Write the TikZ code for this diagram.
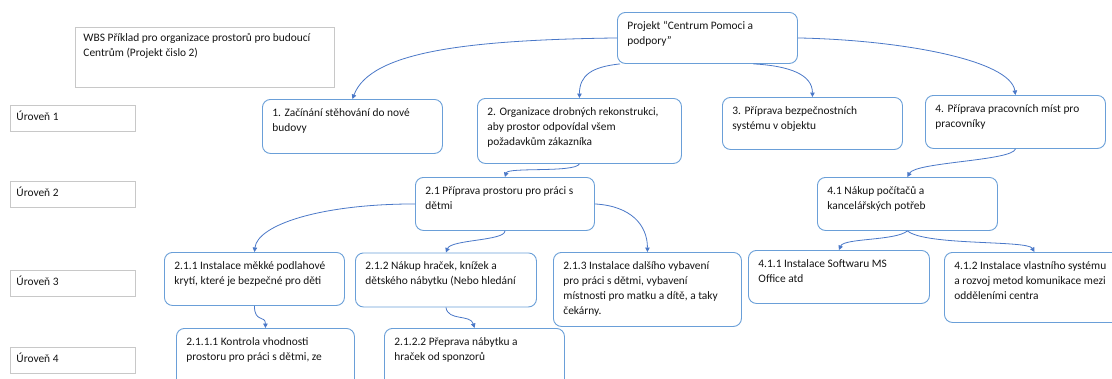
\documentclass[tikz,border=0pt]{standalone}
\usepackage{fontspec}
\setmainfont{Carlito}
\usetikzlibrary{arrows.meta}
\definecolor{boxblue}{HTML}{6A9FD8}
\definecolor{linkblue}{HTML}{4A78C8}
\definecolor{lvlgray}{HTML}{C8C8C8}
\definecolor{txt}{HTML}{141414}
\newcommand{\tb}[3]{\parbox[t][#2pt][t]{#1pt}{\raggedright\strut #3}}
\begin{document}
\begin{tikzpicture}[x=1pt,y=-1pt,
  font=\fontsize{11.4}{15}\selectfont, text=txt,
  wbs/.style={draw=boxblue, line width=0.9pt, rounded corners=8pt, fill=white,
    inner xsep=10pt, inner ysep=6.5pt, anchor=north west},
  titlebox/.style={draw=lvlgray, line width=0.9pt, fill=white,
    inner xsep=8pt, inner ysep=3.5pt, anchor=north west},
  lvl/.style={draw=lvlgray, line width=0.9pt, fill=white,
    inner xsep=6pt, inner ysep=4.5pt, anchor=north west},
  link/.style={draw=linkblue, line width=0.8pt, -{Triangle[length=4.5pt,width=4.5pt]}}
]
\useasboundingbox (0,0) rectangle (1112,378);
\clip (0,0) rectangle (1112,378);
\fill[white] (0,0) rectangle (1112,378);

% title and level boxes
\node[titlebox] (title) at (75,27) {\tb{243}{53}{WBS Příklad pro organizace prostorů pro budoucí\\ Centrům (Projekt čislo 2)}};
\node[lvl] (l1) at (10,105) {\tb{113}{17}{Úroveň 1}};
\node[lvl] (l2) at (10,181) {\tb{113}{17}{Úroveň 2}};
\node[lvl] (l3) at (10,270) {\tb{113}{17}{Úroveň 3}};
\node[lvl] (l4) at (10,347) {\tb{113}{17}{Úroveň 4}};

% WBS nodes
\node[wbs] (p) at (617,12) {\tb{160}{38}{Projekt “Centrum Pomoci a\\ podpory”}};
\node[wbs] (n1) at (262,99) {\tb{160}{41}{1. Začínání stěhování do nové\\ budovy}};
\node[wbs] (n2) at (477,98) {\tb{184}{52}{2. Organizace drobných rekonstrukci,\\ aby prostor odpovídal všem\\ požadavkům zákazníka}};
\node[wbs] (n3) at (722,97) {\tb{160}{39}{3. Příprava bezpečnostních\\ systému v objektu}};
\node[wbs] (n4) at (925,95) {\tb{160}{40}{4. Příprava pracovních míst pro\\ pracovníky}};
\node[wbs] (n21) at (415,177) {\tb{159}{40}{2.1 Příprava prostoru pro práci s\\ dětmi}};
\node[wbs] (n41) at (817,177) {\tb{160}{40}{4.1 Nákup počítačů a\\ kancelářských potřeb}};
\node[wbs] (n211) at (164,252) {\tb{160}{40}{2.1.1 Instalace měkké podlahové\\ krytí, které je bezpečné pro děti}};
\node[wbs] (n212) at (355,252.5) {\tb{161}{41}{2.1.2 Nákup hraček, knížek a\\ dětského nábytku (Nebo hledání}};
\node[wbs] (n213) at (553,252) {\tb{168}{61}{2.1.3 Instalace dalšího vybavení\\ pro práci s dětmi, vybavení\\ místnosti pro matku a dítě, a taky\\ čekárny.}};
\node[wbs] (n411) at (748,250) {\tb{161}{40}{4.1.1 Instalace Softwaru MS\\ Office atd}};
\node[wbs] (n412) at (944,252) {\tb{160}{57}{4.1.2 Instalace vlastního systému\\ a rozvoj metod komunikace mezi\\ odděleními centra}};
\node[wbs] (n2111) at (176,328) {\tb{158}{47}{2.1.1.1 Kontrola vhodnosti\\ prostoru pro práci s dětmi, ze}};
\node[wbs] (n2122) at (384,328) {\tb{160}{47}{2.1.2.2 Přeprava nábytku a\\ hraček od sponzorů}};

% connectors
\draw[link] (p.west) .. controls +(-147,2) and +(18,-48) .. (n1.north);
\draw[link] ([xshift=3pt]p.south west) .. controls +(-28,3) and +(0,-23) .. (n2.north);
\draw[link] ([xshift=46pt]p.south) .. controls +(37,2) and +(0,-22) .. (n3.north);
\draw[link] (p.east) .. controls +(103,2) and +(-5,-35) .. (n4.north);
\draw[link] (n2.south) .. controls +(-5,9) and +(3,-10) .. (n21.north);
\draw[link] (n21.west) .. controls +(-95,0) and +(3,-27) .. (n211.north);
\draw[link] (n21.south) .. controls +(0,10) and +(5,-13) .. (n212.north);
\draw[link] (n21.east) .. controls +(36,2) and +(0,-27) .. (n213.north);
\draw[link] (n4.south) .. controls +(-3,12) and +(8,-15) .. (n41.north);
\draw[link] (n41.south) .. controls +(-12,10) and +(5,-12) .. (n411.north);
\draw[link] (n41.south) .. controls +(18,15) and +(-7,-12) .. (n412.north);
\draw[link] (n211.south) .. controls +(0,17) and +(0,-13) .. (n2111.north);
\draw[link] (n212.south) .. controls +(2,14) and +(-4,-14) .. (n2122.north);
\end{tikzpicture}
\end{document}
